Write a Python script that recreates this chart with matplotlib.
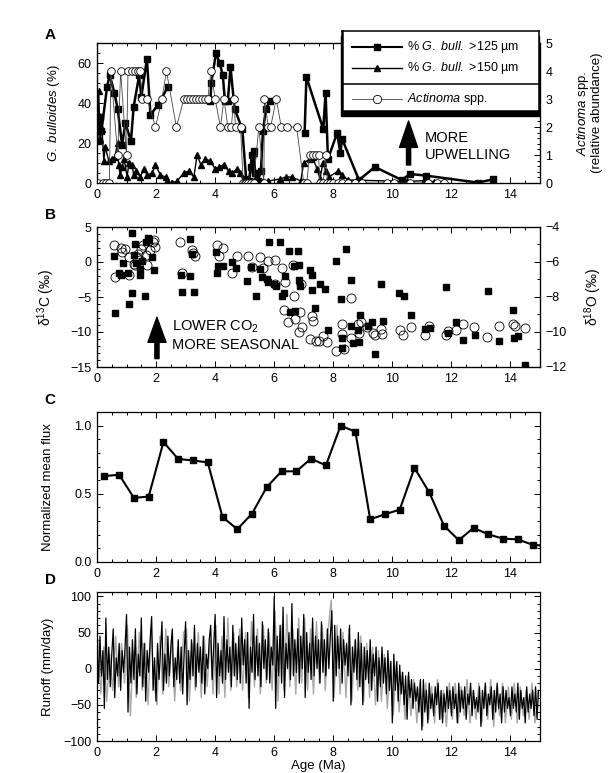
import numpy as np
import matplotlib
matplotlib.use("Agg")
import matplotlib.pyplot as plt
from matplotlib.patches import Rectangle
from matplotlib.ticker import MultipleLocator

plt.rcParams['font.family'] = ['Liberation Sans', 'DejaVu Sans']
plt.rcParams['mathtext.fontset'] = 'custom'
plt.rcParams['mathtext.rm'] = 'Liberation Sans'
plt.rcParams['mathtext.it'] = 'Liberation Sans:italic'
plt.rcParams['font.size'] = 9

nan = np.nan

# ---- panel A: G. bulloides and Actinoma ----
gb125_age = [0.09, 0.15, 0.34, 0.43, 0.59, 0.70, 0.85, 0.96, 1.15, 1.24,
             1.43, 1.50, 1.69, 1.81, 2.06, 2.40, nan, 3.84, 3.87, 4.03,
             4.15, 4.26, 4.33, 4.43, 4.52, 4.66, 4.92, 5.05, 5.15, 5.20,
             5.25, 5.30, 5.35, 5.45, 5.55, 5.62, 5.72, 5.85, nan, 7.03,
             7.09, 7.66, 7.74, 7.82, 8.13, 8.24, 8.30, 8.87, 9.41, 10.32,
             10.60, 11.13, 12.90, 13.40]
gb125_pct = [33, 26, 48, 54, 45, 37, 19, 30, 21, 38,
             54, 43, 62, 34, 39, 48, nan, 41, 50, 65,
             60, 54, 41, 41, 58, 37, 27, 2, 1, 8,
             14, 16, 5, 1, 6, 26, 37, 41, nan, 25,
             53, 27, 45, 12, 25, 15, 22, 1.5, 8, 1.5,
             4.5, 3.7, 0.2, 1.8]

gb150_age = [0.03, 0.06, 0.10, 0.17, 0.23, 0.28, 0.40, 0.51, 0.60, 0.70,
             0.73, 0.79, 0.85, 0.92, 1.02, 1.08, 1.19, 1.24, 1.33, 1.47,
             1.58, 1.70, 1.87, 1.98, 2.15, 2.32, 2.38, 2.54, 2.71, 2.94,
             3.11, 3.28, 3.39, 3.52, 3.67, 3.84, 4.00, 4.12, 4.29, 4.46,
             4.57, 4.74, 4.85, 4.96, 5.05, 5.15, 5.25, 5.30, 5.40, 5.55,
             5.80, 6.20, 6.40, 6.60, 6.90, 7.00, 7.20, 7.30, 7.45, 7.55,
             7.65, 7.75, 7.85, 8.17, 8.30, 8.50, 10.50, 11.10, 11.40, 11.75]
gb150_pct = [21, 46, 22, 27, 11, 18, 11, 12, 13, 20,
             9, 4, 8, 12, 3, 10, 9, 4, 6, 3,
             7, 4, 5, 9, 4, 3, 1, 0, 1, 5,
             6, 3, 14, 9, 12, 11, 7, 8, 9, 6,
             5, 7, 5, 1, 2, 1, 8, 15, 3, 1,
             1, 2, 3, 3, 1, 10, 12, 13, 7, 2,
             10, 6, 3, 6, 4, 1.5, 0.8, 1.2, 0.6, 0.5]

act_age = [0.02, 0.20, 0.30, 0.42, 0.47, 0.70, 0.80, 1.00, 1.05, 1.20,
           1.30, 1.40, 1.45, 1.53, 1.70, 1.98, 2.20, 2.35, 2.69, 2.94,
           3.05, 3.15, 3.25, 3.35, 3.45, 3.55, 3.65, 3.75, 3.86, 4.00,
           4.18, 4.30, 4.43, 4.55, 4.63, 4.69, 4.86, 4.95, 5.00, 5.05,
           5.10, 5.20, 5.30, 5.48, 5.65, 5.67, 5.80, 5.88, 6.07, 6.24,
           6.45, 6.76, 7.00, 7.10, 7.20, 7.30, 7.40, 7.50, 7.55, 7.66,
           7.74, 7.80, 7.90, 8.00, 8.15, 8.30, 8.50, 8.75, 8.98, 9.83,
           10.05, 10.60, 11.20, 11.50, 11.75]
act_level = [0, 0, 0, 0, 4, 1, 4, 1, 4, 4,
             4, 4, 4, 3, 3, 2, 3, 4, 2, 3,
             3, 3, 3, 3, 3, 3, 3, 3, 4, 3,
             2, 3, 2, 2, 3, 2, 2, 0, 0, 0,
             0, 0, 0, 2, 0, 3, 2, 2, 3, 2,
             2, 2, 0, 0, 1, 1, 1, 1, 0, 0,
             1, 0, 0, 0, 0, 0, 0, 0, 0, 0,
             0, 0, 0, 0, 0]

# ---- panel B: isotopes ----
d13c_age = [0.62, 0.59, 0.73, 0.82, 0.87, 1.04, 1.07, 1.19, 1.20, 1.24,
            1.27, 1.31, 1.44, 1.47, 1.53, 1.62, 1.65, 1.72, 1.76, 1.86,
            1.92, 2.85, 2.87, 3.16, 3.16, 3.22, 3.30, 4.03, 4.07, 4.10,
            4.26, 4.56, 4.72, 5.08, 5.22, 5.40, 5.53, 5.57, 5.74, 5.80,
            5.83, 5.99, 6.05, 6.21, 6.27, 6.33, 6.38, 6.50, 6.53, 6.69,
            6.67, 6.81, 6.84, 6.84, 6.87, 7.21, 7.27, 7.27, 7.37, 7.55,
            7.72, 7.82, 8.10, 8.42, 8.27, 8.59, 8.29, 8.30, 8.59, 8.67,
            8.87, 8.84, 8.90, 9.18, 9.32, 9.43, 9.67, 9.63, 10.24, 10.38,
            10.63, 11.11, 11.27, 11.81, 11.88, 12.17, 12.40, 12.79, 13.23, 13.62,
            14.09, 14.13, 14.26, 14.48]
d13c_val = [-7.3, 0.9, -1.5, -1.8, -0.2, -1.5, -6.0, -4.4, 4.2, 1.0,
            2.6, -0.2, -1.0, -1.8, 0.1, -4.9, 2.9, 3.4, 3.2, 0.7,
            -1.2, -1.8, -4.3, 3.3, -2.0, 1.2, -4.3, 1.4, -1.6, -0.5,
            -0.6, 0.0, -0.9, -2.7, -0.7, -4.8, -1.0, -2.1, -2.4, -2.8,
            2.9, -3.2, -3.4, 2.9, -4.8, -4.4, -2.0, 1.6, -7.2, -7.0,
            -0.6, 1.6, -0.4, -2.5, -3.4, -1.2, -1.8, -4.0, -6.6, -3.1,
            -3.9, -9.7, 0.2, 1.8, -5.3, -2.6, -10.9, -12.3, -9.2, -11.6,
            -11.4, -9.7, -7.5, -9.1, -8.5, -13.2, -8.4, -3.2, -4.4, -4.9,
            -7.6, -9.6, -9.4, -3.5, -10.1, -8.5, -11.2, -10.4, -4.2, -11.3,
            -6.8, -10.9, -10.5, -14.7]

d18o_age = [0.59, 0.62, 0.82, 0.85, 0.95, 1.07, 1.10, 1.25, 1.30, 1.36,
            1.38, 1.45, 1.49, 1.56, 1.65, 1.70, 1.81, 1.90, 1.92, 1.95,
            2.82, 2.88, 3.20, 3.25, 3.33, 4.05, 4.12, 4.27, 4.58, 4.75,
            5.11, 5.26, 5.52, 5.63, 5.80, 6.02, 6.02, 6.27, 6.33, 6.38,
            6.47, 6.63, 6.67, 6.70, 6.84, 6.93, 6.87, 6.90, 7.21, 7.27,
            7.32, 7.40, 7.51, 7.66, 7.80, 8.10, 8.28, 8.30, 8.38, 8.59,
            8.59, 8.84, 8.87, 8.95, 9.15, 9.35, 9.43, 9.63, 9.66, 10.25,
            10.37, 10.62, 11.11, 11.24, 11.81, 11.87, 12.17, 12.40, 12.78, 13.22,
            13.62, 14.07, 14.16, 14.48]
d18o_val = [-5.04, -6.84, -5.20, -5.44, -5.28, -6.76, -5.72, -6.12, -6.20, -5.80,
            -5.52, -5.88, -5.24, -5.04, -5.60, -6.20, -5.32, -4.84, -4.72, -5.12,
            -4.88, -6.64, -5.32, -5.48, -5.64, -5.04, -5.68, -5.20, -6.64, -5.64,
            -5.64, -6.28, -5.72, -6.32, -5.92, -5.88, -7.24, -6.36, -8.76, -7.12,
            -9.44, -6.20, -7.92, -9.24, -10.00, -9.72, -8.84, -7.28, -10.40, -9.08,
            -9.40, -10.52, -10.52, -10.24, -10.60, -11.08, -9.52, -10.12, -11.00, -8.08,
            -10.32, -9.52, -10.04, -9.44, -9.72, -10.04, -10.16, -9.84, -10.12, -9.88,
            -10.20, -9.72, -10.16, -9.64, -10.16, -9.92, -9.88, -9.56, -9.72, -10.28,
            -9.64, -9.52, -9.68, -9.80]

# ---- panel C: normalized mean flux ----
flux_age = [0.25, 0.75, 1.25, 1.75, 2.25, 2.75, 3.25, 3.75, 4.25, 4.75,
            5.25, 5.75, 6.25, 6.75, 7.25, 7.75, 8.25, 8.75, 9.25, 9.75,
            10.25, 10.75, 11.25, 11.75, 12.25, 12.75, 13.25, 13.75, 14.25, 14.75, 15.1]
flux_val = [0.63, 0.64, 0.47, 0.48, 0.88, 0.755, 0.745, 0.73, 0.33, 0.24,
            0.355, 0.55, 0.665, 0.665, 0.758, 0.708, 1.0, 0.955, 0.313, 0.35,
            0.384, 0.69, 0.51, 0.266, 0.16, 0.25, 0.203, 0.171, 0.166, 0.126, 0.12]

# ---- panel D: runoff, 20 samples per Ma ----
runoff_black = [
    35, -20, 45, -10, 25, -55, 70, -15, 30, -25, 20, 55, -40, 15, -10, 35, -30, 25, -5, 30,
    75, -60, 30, -20, 40, -15, 55, -35, 20, -10, 70, -25, 35, -45, 25, -5, 40, 72, -30, 15,
    -45, 35, -15, 25, 65, -30, 20, -20, 45, -10, 30, 55, -25, 15, -15, 40, -20, 30, -35, 20,
    65, -50, 25, -15, 40, -10, 60, -25, 35, -5, 30, -20, 45, -35, 20, 0, 40, 60, -15, 30,
    75, -40, 35, -10, 25, -20, 72, -15, 40, -5, 30, -25, 60, -10, 35, -15, 45, -20, 70, 5,
    40, -20, 50, -55, 30, -5, 75, -15, 45, -10, 35, -25, 65, 0, 40, -15, 55, -20, 30, 5,
    100, -55, 45, -10, 60, -20, 85, -40, 35, 0, 50, -15, 90, -10, 40, -5, 55, -20, 45, 0,
    75, -40, 50, -5, 35, -15, 70, -10, 45, 0, 40, -20, 65, -5, 40, -10, 55, 0, 45, 80,
    -45, 60, -10, 45, 0, 55, -20, 40, 5, 35, -10, 60, -50, 30, -5, 40, -15, 50, -25, 35,
    -50, 30, -15, 25, -20, 40, -30, 20, -10, 30, -45, 15, -25, 30, -20, 15, -35, 25, -30, 10,
    -75, 20, -30, 10, -45, 5, -35, -5, -50, -10, -70, -5, -40, -15, -55, -20, -45, -25, -60, -15,
    -85, -15, -60, -30, -75, -20, -55, -35, -65, -25, -50, -20, -70, -30, -75, -35, -60, -25, -55, -30,
    -65, -25, -55, -35, -75, -20, -60, -30, -55, -25, -70, -35, -50, -20, -65, -30, -55, -40, -60, -25,
    -80, -30, -55, -20, -65, -35, -50, -25, -70, -30, -60, -20, -55, -35, -75, -25, -60, -30, -55, -40,
    -65, -25, -55, -35, -60, -20, -70, -30, -55, -40, -75, -25, -60, -35, -55, -30, -65, -25, -70, -30,
]
# gray series, 10 samples per Ma
runoff_gray = [
    40, -35, 30, -45, 20, -30, 45, -25, 35, -20,
    60, -65, 25, -40, 50, -30, 35, -50, 55, -20,
    -50, 45, -35, 55, -25, 40, -45, 30, -30, 50,
    55, -45, 35, -30, 50, -40, 45, -25, 40, -35,
    60, -35, 45, -40, 70, -30, 50, -25, 55, -30,
    50, -40, 65, -25, 55, -35, 60, -20, 50, -30,
    80, -45, 60, -30, 75, -25, 55, -35, 70, -20,
    70, -30, 55, -35, 65, -20, 60, -30, 55, 95,
    -40, 60, -35, 50, -40, 55, -45, 40, -30, 45,
    -45, 35, -40, 30, -50, 25, -45, 20, -55, 10,
    -65, 5, -60, -5, -70, -10, -65, -15, -75, -20,
    -80, -20, -70, -25, -75, -15, -70, -30, -80, -20,
    -70, -20, -75, -25, -65, -15, -75, -30, -70, -20,
    -75, -25, -70, -15, -80, -25, -65, -20, -75, -25,
    -70, -20, -75, -25, -65, -30, -70, -20, -75, -30,
]
runoff_black_age = np.arange(len(runoff_black)) * 0.05
runoff_gray_age = np.arange(len(runoff_gray)) * 0.1 + 0.03

W, H = 613, 773
fig = plt.figure(figsize=(W / 100, H / 100), dpi=100)


def box(top, bottom):
    return [97 / W, 1 - bottom / H, (540 - 97) / W, (bottom - top) / H]


def style(ax, ymaj, ymin, right=True):
    ax.set_xlim(0, 15)
    ax.xaxis.set_major_locator(MultipleLocator(2))
    ax.xaxis.set_minor_locator(MultipleLocator(0.5))
    ax.yaxis.set_major_locator(MultipleLocator(ymaj))
    ax.yaxis.set_minor_locator(MultipleLocator(ymin))
    ax.tick_params(which='both', direction='in', top=True, right=right, width=0.7)
    ax.tick_params(which='major', length=4, pad=4, labelsize=9)
    ax.tick_params(which='minor', length=2.5)
    for s in ax.spines.values():
        s.set_linewidth(0.9)


# ---- A ----
axA = fig.add_axes(box(43, 183))
axA.plot(gb125_age, gb125_pct, '-s', color='black', lw=1.8, ms=4, zorder=4)
axA.plot(gb150_age, gb150_pct, '-^', color='black', lw=1.0, ms=4.5, zorder=3)
axA.set_ylim(0, 70)
style(axA, 20, 5, right=False)
axA.set_ylabel('$\\it{G.\\ bulloides}$ (%)', fontsize=9.5)
axA.yaxis.set_label_coords(-0.08, 0.5)
axA2 = axA.twinx()
axA2.plot(act_age, act_level, '-o', color='#444444', lw=0.6, ms=5.5,
          mfc='white', mec='black', mew=0.6)
axA2.set_ylim(0, 5)
axA2.yaxis.set_major_locator(MultipleLocator(1))
axA2.yaxis.set_minor_locator(MultipleLocator(0.2))
axA2.tick_params(which='both', direction='in', width=0.7)
axA2.tick_params(which='major', length=4, pad=4, labelsize=9)
axA2.tick_params(which='minor', length=2.5)
axA2.set_ylabel('$\\it{Actinoma}$ spp.\n(relative abundance)', fontsize=9.5, linespacing=1.0)
axA2.yaxis.set_label_coords(1.08, 0.5)
axA.annotate('', xy=(10.55, 31), xytext=(10.55, 9),
             arrowprops=dict(facecolor='black', edgecolor='black', width=3,
                             headwidth=13, headlength=19, shrink=0))
axA.text(11.1, 22.5, 'MORE', fontsize=10.5, va='center')
axA.text(11.1, 14, 'UPWELLING', fontsize=10.5, va='center')

# legend box drawn by hand (two sections, drop shadow underneath)
lx0, lx1, ly0, ly1 = 342, 539, 31, 111
shadow = Rectangle(((lx0 - 1) / W, 1 - (ly1 + 5) / H), (lx1 - lx0 + 1) / W, (ly1 - ly0) / H,
                   transform=fig.transFigure, facecolor='black', edgecolor='black', zorder=8)
fig.patches.append(shadow)
leg = fig.add_axes([lx0 / W, 1 - ly1 / H, (lx1 - lx0) / W, (ly1 - ly0) / H], zorder=9)
leg.set_xlim(0, lx1 - lx0)
leg.set_ylim(ly1 - ly0, 0)
leg.set_xticks([])
leg.set_yticks([])
for s in leg.spines.values():
    s.set_linewidth(1.1)
leg.spines['left'].set_linewidth(1.8)
leg.axhline(53, color='black', lw=1.1)
leg.plot([10, 60], [16, 16], '-', color='black', lw=1.5)
leg.plot([35], [16], 's', color='black', ms=4.5)
leg.plot([10, 60], [37, 37], '-', color='black', lw=1.0)
leg.plot([35], [37], '^', color='black', ms=4.5)
leg.plot([10, 60], [68, 68], '-', color='#444444', lw=0.6)
leg.plot([35], [68], 'o', mfc='white', mec='black', mew=0.6, ms=6)
leg.text(65, 16, '% $\\it{G.\\ bull.}$ >125 µm', va='center', fontsize=9)
leg.text(65, 37, '% $\\it{G.\\ bull.}$ >150 µm', va='center', fontsize=9)
leg.text(65, 68, '$\\it{Actinoma}$ spp.', va='center', fontsize=9)

# ---- B ----
axB = fig.add_axes(box(227, 367))
axB.plot(d13c_age, d13c_val, 's', color='black', ms=4.2, zorder=3)
axB.set_ylim(-15, 5)
style(axB, 5, 1, right=False)
axB.set_ylabel('δ$^{13}$C (‰)', fontsize=10)
axB.yaxis.set_label_coords(-0.09, 0.5)
axB2 = axB.twinx()
axB2.plot(d18o_age, d18o_val, 'o', mfc='none', mec='black', mew=0.6, ms=6.5)
axB2.set_ylim(-12, -4)
axB2.yaxis.set_major_locator(MultipleLocator(2))
axB2.yaxis.set_minor_locator(MultipleLocator(1))
axB2.tick_params(which='both', direction='in', width=0.7)
axB2.tick_params(which='major', length=4, pad=4, labelsize=9)
axB2.tick_params(which='minor', length=2.5)
axB2.set_ylabel('δ$^{18}$O (‰)', fontsize=10)
axB2.yaxis.set_label_coords(1.095, 0.5)
axB.annotate('', xy=(2.03, -7.9), xytext=(2.03, -13.8),
             arrowprops=dict(facecolor='black', edgecolor='black', width=3,
                             headwidth=13, headlength=18, shrink=0))
axB.text(2.55, -9.3, 'LOWER CO$_2$', fontsize=10.5, va='center')
axB.text(2.55, -11.9, 'MORE SEASONAL', fontsize=10.5, va='center')

# ---- C ----
axC = fig.add_axes(box(412, 562))
axC.plot(flux_age, flux_val, '-s', color='black', lw=1.5, ms=4)
axC.set_ylim(0, 1.1)
style(axC, 0.5, 0.1)
axC.set_ylabel('Normalized mean flux', fontsize=9.5)
axC.yaxis.set_label_coords(-0.097, 0.5)

# ---- D ----
axD = fig.add_axes(box(592, 741))
axD.plot(runoff_gray_age, runoff_gray, color='#a8a8a8', lw=1.0)
axD.plot(runoff_black_age, runoff_black, color='black', lw=0.9)
axD.set_ylim(-100, 106)
style(axD, 50, 10)
axD.set_ylabel('Runoff (mm/day)', fontsize=9.5)
axD.yaxis.set_label_coords(-0.097, 0.5)
axD.set_xlabel('Age (Ma)', fontsize=9.5, labelpad=1)

for letter, y in [('A', 35), ('B', 215), ('C', 400), ('D', 580)]:
    fig.text(50 / W, 1 - y / H, letter, fontsize=11, fontweight='bold',
             ha='center', va='center')

fig.savefig('out.png', dpi=100)
